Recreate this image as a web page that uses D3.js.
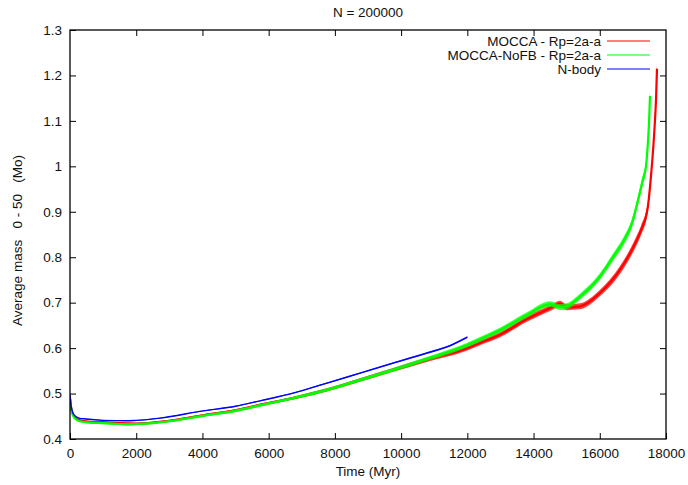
<!DOCTYPE html>
<html>
<head>
<meta charset="utf-8">
<script src="https://cdn.jsdelivr.net/npm/d3@7"></script>
<style>
  body { margin: 0; background: #fff; }
  svg text { font-family: "Liberation Sans", Arial, sans-serif; font-size: 13.5px; fill: #111; }
</style>
</head>
<body>
<div id="chart"></div>
<script>
// values (time in Myr, average mass in Mo)
var redT = [0, 50, 150, 300, 600, 1000, 1500, 2000, 2500, 3000, 4000, 5000, 5740, 6740, 7760, 8760, 9760, 10770, 12000, 12400, 13000, 13800, 14500, 14800, 15000, 15400, 16000, 16610, 17100, 17250, 17450, 17560, 17650, 17700, 17728];
var redV = [0.49, 0.462, 0.448, 0.441, 0.438, 0.437, 0.435, 0.434, 0.436, 0.440, 0.452, 0.463, 0.475, 0.490, 0.508, 0.530, 0.552, 0.574, 0.600, 0.612, 0.630, 0.664, 0.688, 0.698, 0.690, 0.692, 0.721, 0.772, 0.835, 0.86, 0.91, 0.99, 1.08, 1.15, 1.215];

var greenT = [0, 50, 150, 300, 600, 1000, 1500, 1700, 2000, 2500, 3000, 4000, 5000, 5740, 6740, 7760, 8760, 9760, 10770, 12000, 12400, 13000, 13800, 14500, 14800, 15000, 15400, 16000, 16400, 16700, 16973, 17154, 17300, 17396, 17460, 17490, 17517];
var greenV = [0.488, 0.46, 0.445, 0.439, 0.436, 0.435, 0.433, 0.432, 0.433, 0.435, 0.439, 0.451, 0.462, 0.474, 0.490, 0.508, 0.530, 0.552, 0.576, 0.607, 0.620, 0.640, 0.673, 0.697, 0.690, 0.692, 0.713, 0.757, 0.800, 0.833, 0.875, 0.925, 0.97, 1.0, 1.06, 1.10, 1.155];

var blueT = [0, 40, 120, 270, 480, 1000, 1690, 2000, 2720, 4020, 5000, 5740, 6740, 7760, 8760, 9760, 10770, 11500, 12000];
var blueV = [0.497, 0.47, 0.453, 0.446, 0.444, 0.441, 0.440, 0.441, 0.446, 0.462, 0.472, 0.484, 0.501, 0.523, 0.545, 0.567, 0.589, 0.606, 0.624];

// scatter of the noisy runs (half width, Mo) read at a few times
var noiseT = [0, 6000, 12000, 16000, 17800];
var noiseV = [0.0015, 0.003, 0.005, 0.007, 0.012];
var blueNoiseT = [0, 6000, 12000];
var blueNoiseV = [0.0005, 0.001, 0.002];

var seriesNames = ["MOCCA - Rp=2a-a", "MOCCA-NoFB - Rp=2a-a", "N-body"];
var xTicks = [0, 2000, 4000, 6000, 8000, 10000, 12000, 14000, 16000, 18000];
var yTicks = [0.4, 0.5, 0.6, 0.7, 0.8, 0.9, 1, 1.1, 1.2, 1.3];

var W = 688, H = 485;
var margin = {top: 30, right: 22, bottom: 46, left: 70};
var width = W - margin.left - margin.right,
    height = H - margin.top - margin.bottom;

var svg = d3.select("#chart").append("svg")
    .attr("width", W).attr("height", H)
  .append("g")
    .attr("transform", "translate(" + margin.left + "," + margin.top + ")");

var x = d3.scaleLinear().domain([0, 18000]).range([0, width]);
var y = d3.scaleLinear().domain([0.4, 1.3]).range([height, 0]);
var noise = d3.scaleLinear().domain(noiseT).range(noiseV);
var blueNoise = d3.scaleLinear().domain(blueNoiseT).range(blueNoiseV);

var series = [
  {name: seriesNames[0], t: redT, v: redV, color: "#ff0000", w: 2.2, n: noise},
  {name: seriesNames[1], t: greenT, v: greenV, color: "#00ff00", w: 2.2, n: noise},
  {name: seriesNames[2], t: blueT, v: blueV, color: "#0000ff", w: 1.4, n: blueNoise}
];

var line = d3.line()
    .x(function (d) { return x(d[0]); })
    .y(function (d) { return y(d[1]); })
    .curve(d3.curveMonotoneX);

svg.append("defs").append("clipPath").attr("id", "clip")
  .append("rect").attr("width", width).attr("height", height);

series.forEach(function (s) {
  var pts = s.t.map(function (t, i) { return [t, s.v[i]]; });
  var band = d3.area()
      .x(function (d) { return x(d[0]); })
      .y0(function (d) { return y(d[1] - s.n(d[0])); })
      .y1(function (d) { return y(d[1] + s.n(d[0])); })
      .curve(d3.curveMonotoneX);
  svg.append("path")
    .datum(pts)
    .attr("clip-path", "url(#clip)")
    .attr("fill", s.color)
    .attr("opacity", 0.75)
    .attr("d", band);
  svg.append("path")
    .datum(pts)
    .attr("clip-path", "url(#clip)")
    .attr("fill", "none")
    .attr("stroke", s.color)
    .attr("stroke-width", s.w)
    .attr("stroke-linejoin", "round")
    .attr("d", line);
});

// axes, ticks pointing inward, mirrored on top and right
svg.append("g")
    .attr("transform", "translate(0," + height + ")")
    .call(d3.axisBottom(x).tickValues(xTicks).tickSize(-6).tickPadding(9).tickFormat(d3.format("d")))
    .call(g => g.select(".domain").remove());

svg.append("g")
    .call(d3.axisLeft(y).tickValues(yTicks).tickSize(-6).tickPadding(8).tickFormat(function (d) { return d3.format("~g")(d); }))
    .call(g => g.select(".domain").remove());

svg.append("g")
    .call(d3.axisTop(x).tickValues(xTicks.slice(1, -1)).tickSize(-6).tickFormat(""))
    .call(g => g.select(".domain").remove());

svg.append("g")
    .attr("transform", "translate(" + width + ",0)")
    .call(d3.axisRight(y).tickValues(yTicks.slice(1, -1)).tickSize(-6).tickFormat(""))
    .call(g => g.select(".domain").remove());

svg.selectAll(".tick line").attr("stroke", "#000").attr("stroke-width", 1);
svg.selectAll(".tick text").style("font-size", "13.5px").attr("fill", "#111");

svg.append("rect")
    .attr("width", width).attr("height", height)
    .attr("fill", "none").attr("stroke", "#000").attr("stroke-width", 1.3);

// legend
var legend = svg.append("g").attr("transform", "translate(" + (width - 65) + ",11)");
series.forEach(function (s, i) {
  var row = legend.append("g").attr("transform", "translate(0," + (i * 14) + ")");
  row.append("text").attr("x", 0).attr("y", 0).attr("dy", "0.35em")
    .attr("text-anchor", "end").text(s.name);
  row.append("line").attr("x1", 6).attr("x2", 49).attr("y1", 0).attr("y2", 0)
    .attr("stroke", s.color).attr("stroke-width", 1.2);
});

// titles
svg.append("text").attr("x", width / 2).attr("y", -13)
  .attr("text-anchor", "middle").text("N = 200000");

svg.append("text").attr("x", width / 2).attr("y", height + 37)
  .attr("text-anchor", "middle").text("Time (Myr)");

svg.append("text")
  .attr("transform", "translate(-48," + (height / 2 + 6) + ") rotate(-90)")
  .attr("text-anchor", "middle")
  .attr("xml:space", "preserve")
  .style("white-space", "pre")
  .text("Average mass   0 - 50   (Mo)");
</script>
</body>
</html>
